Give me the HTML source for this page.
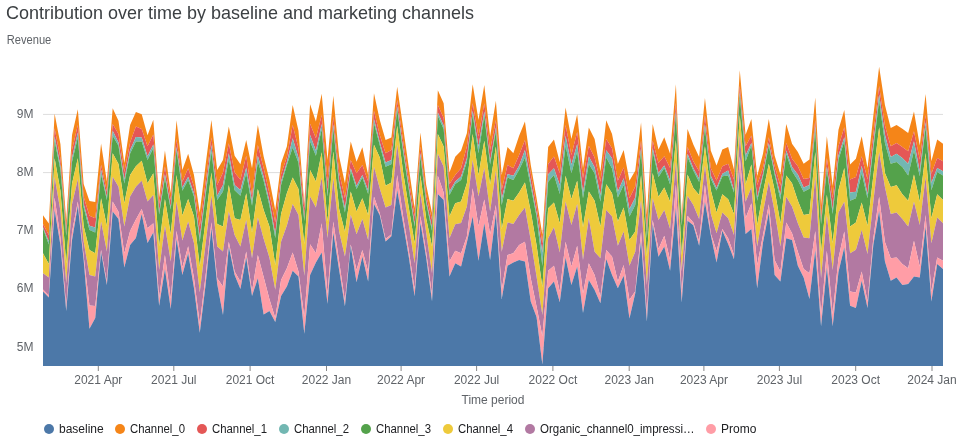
<!DOCTYPE html>
<html><head><meta charset="utf-8"><title>Contribution over time</title>
<style>
html,body{margin:0;padding:0;background:#fff;}
body{width:962px;height:440px;overflow:hidden;font-family:"Liberation Sans",sans-serif;}
svg{display:block}
text{font-family:"Liberation Sans",sans-serif;}
.tx{filter:url(#idf);}
.ttl{font-size:18.4px;fill:#3c4043;}
.sub{font-size:12px;fill:#5f6368;}
.ax{font-size:12px;fill:#5f6368;}
.lg{font-size:12px;fill:#202124;}
</style></head><body>
<svg width="962" height="440" viewBox="0 0 962 440">
<defs><filter id="idf" x="0" y="0" width="962" height="440" filterUnits="userSpaceOnUse"><feOffset dx="0" dy="0"/></filter></defs>
<rect width="962" height="440" fill="#fff"/>
<g class="tx"><text x="6" y="19" class="ttl" textLength="468" lengthAdjust="spacingAndGlyphs">Contribution over time by baseline and marketing channels</text>
<text x="6.7" y="44" class="sub" textLength="44.6" lengthAdjust="spacingAndGlyphs">Revenue</text></g>
<g class="tx"><line x1="43" x2="943" y1="114.4" y2="114.4" stroke="#ddd" stroke-width="1"/>
<text x="33.5" y="117.7" text-anchor="end" class="ax">9M</text>
<line x1="43" x2="943" y1="172.6" y2="172.6" stroke="#ddd" stroke-width="1"/>
<text x="33.5" y="175.9" text-anchor="end" class="ax">8M</text>
<line x1="43" x2="943" y1="230.8" y2="230.8" stroke="#ddd" stroke-width="1"/>
<text x="33.5" y="234.1" text-anchor="end" class="ax">7M</text>
<line x1="43" x2="943" y1="289.1" y2="289.1" stroke="#ddd" stroke-width="1"/>
<text x="33.5" y="292.4" text-anchor="end" class="ax">6M</text>
<line x1="43" x2="943" y1="347.3" y2="347.3" stroke="#ddd" stroke-width="1"/>
<text x="33.5" y="350.6" text-anchor="end" class="ax">5M</text></g>
<g><polygon fill="#f58518" points="43.00,215.20 48.81,223.50 54.61,113.64 60.42,144.00 66.23,220.50 72.03,135.00 77.84,109.15 83.65,184.00 89.45,201.00 95.26,202.00 101.06,143.58 106.87,181.60 112.68,108.32 118.48,120.79 124.29,163.00 130.10,124.95 135.90,111.98 141.71,114.14 147.52,135.26 153.32,119.63 159.13,197.40 164.94,150.40 170.74,193.00 176.55,120.29 182.35,170.00 188.16,153.72 193.97,175.00 199.77,212.40 205.58,165.00 211.39,119.94 217.19,169.98 223.00,160.00 228.81,126.59 234.61,155.70 240.42,164.16 246.23,139.90 252.03,168.32 257.84,124.93 263.65,156.53 269.45,179.96 275.26,209.90 281.06,163.33 286.87,146.55 292.68,104.97 298.48,130.75 304.29,204.07 310.10,104.14 315.90,121.60 321.71,93.66 327.52,160.00 333.32,95.82 339.13,156.53 344.94,183.28 350.74,141.54 356.55,161.64 362.35,147.36 368.16,174.95 373.97,93.31 379.77,119.92 385.58,139.88 391.39,137.38 397.19,86.65 403.00,126.57 408.81,167.50 414.61,208.21 420.42,132.39 426.23,185.00 432.03,213.00 437.84,90.31 443.65,103.28 449.45,172.45 455.26,156.65 461.06,150.83 466.87,133.22 472.68,84.16 478.48,119.92 484.29,84.99 490.10,136.55 495.90,100.83 501.71,174.98 507.52,147.07 513.32,153.22 519.13,135.76 524.94,121.62 530.74,164.86 536.55,197.93 542.35,234.80 548.16,147.07 553.97,139.58 559.77,162.37 565.58,107.48 571.39,139.09 577.19,114.14 583.00,168.19 588.81,127.44 594.61,139.09 600.42,171.52 606.23,120.29 612.03,134.10 617.84,164.03 623.65,149.90 629.45,180.80 635.26,170.82 641.06,122.45 646.87,214.90 652.68,124.04 658.48,149.60 664.29,137.35 670.10,153.76 675.90,84.13 681.71,215.80 687.52,129.03 693.32,144.61 699.13,157.09 704.94,97.93 710.74,150.43 716.55,165.40 722.35,149.60 728.16,147.11 733.97,169.56 739.77,70.32 745.58,134.63 751.39,119.05 757.19,176.00 763.00,153.76 768.81,119.05 774.61,155.42 780.42,174.55 786.23,124.04 792.03,143.78 797.84,152.10 803.65,163.74 809.45,159.58 815.26,97.42 821.06,204.96 826.87,136.30 832.68,186.00 838.48,129.64 844.29,109.90 850.10,164.57 855.90,158.75 861.71,136.30 867.52,167.90 873.32,115.72 879.13,66.65 884.94,104.91 890.74,127.98 896.55,124.99 902.35,128.81 908.16,132.97 913.97,111.56 919.77,145.44 925.58,94.10 931.39,161.24 937.19,139.62 943.00,143.78 943.00,161.24 937.19,157.92 931.39,173.72 925.58,114.89 919.77,159.58 913.97,131.31 908.16,151.26 902.35,147.11 896.55,142.95 890.74,146.27 884.94,125.48 879.13,85.95 873.32,134.13 867.52,179.54 861.71,156.25 855.90,177.00 850.10,179.54 844.29,127.15 838.48,146.27 832.68,198.31 826.87,157.92 821.06,218.26 815.26,120.00 809.45,177.88 803.65,179.00 797.84,166.23 792.03,158.75 786.23,142.95 780.42,185.83 774.61,166.00 768.81,137.13 763.00,167.90 757.19,185.00 751.39,135.46 745.58,146.27 739.77,85.79 733.97,179.54 728.16,163.74 722.35,166.23 716.55,180.50 710.74,167.90 704.94,114.90 699.13,171.22 693.32,161.24 687.52,147.11 681.71,221.00 675.90,102.92 670.10,167.90 664.29,156.25 658.48,162.91 652.68,140.45 646.87,227.67 641.06,140.42 635.26,186.62 629.45,198.26 623.65,167.49 617.84,180.80 612.03,148.23 606.23,139.09 600.42,181.63 594.61,157.38 588.81,145.74 583.00,178.31 577.19,132.10 571.39,154.89 565.58,124.95 559.77,173.32 553.97,156.55 548.16,164.03 542.35,243.30 536.55,206.25 530.74,173.32 524.94,139.92 519.13,154.89 513.32,168.33 507.52,164.86 501.71,189.95 495.90,119.92 490.10,150.00 484.29,103.28 478.48,136.55 472.68,103.28 466.87,146.53 461.06,168.30 455.26,174.95 449.45,184.10 443.65,117.92 437.84,104.95 432.03,220.00 426.23,195.33 420.42,146.53 414.61,216.53 408.81,179.82 403.00,140.22 397.19,99.96 391.39,150.00 385.58,153.33 379.77,134.89 373.97,110.77 368.16,181.60 362.35,164.97 356.55,173.28 350.74,159.98 344.94,198.25 339.13,172.59 333.32,116.61 327.52,181.62 321.71,114.95 315.90,138.23 310.10,123.76 304.29,208.50 298.48,148.21 292.68,124.93 286.87,156.79 281.06,174.14 275.26,222.37 269.45,193.26 263.65,168.32 257.84,144.89 252.03,195.76 246.23,155.70 240.42,179.63 234.61,172.47 228.81,143.22 223.00,172.47 217.19,184.95 211.39,137.40 205.58,181.98 199.77,226.53 193.97,186.63 188.16,168.19 182.35,181.64 176.55,139.09 170.74,200.00 164.94,166.53 159.13,204.00 153.32,134.43 147.52,146.24 141.71,129.11 135.90,126.61 130.10,142.41 124.29,172.00 118.48,134.10 112.68,124.12 106.87,191.62 101.06,164.86 95.26,218.23 89.45,215.74 83.65,196.86 77.84,124.95 72.03,149.86 66.23,229.00 60.42,158.29 54.61,128.27 48.81,235.00 43.00,224.00"/>
<polygon fill="#e45756" points="43.00,224.00 48.81,235.00 54.61,128.27 60.42,158.29 66.23,229.00 72.03,149.86 77.84,124.95 83.65,196.86 89.45,215.74 95.26,218.23 101.06,164.86 106.87,191.62 112.68,124.12 118.48,134.10 124.29,172.00 130.10,142.41 135.90,126.61 141.71,129.11 147.52,146.24 153.32,134.43 159.13,204.00 164.94,166.53 170.74,200.00 176.55,139.09 182.35,181.64 188.16,168.19 193.97,186.63 199.77,226.53 205.58,181.98 211.39,137.40 217.19,184.95 223.00,172.47 228.81,143.22 234.61,172.47 240.42,179.63 246.23,155.70 252.03,195.76 257.84,144.89 263.65,168.32 269.45,193.26 275.26,222.37 281.06,174.14 286.87,156.79 292.68,124.93 298.48,148.21 304.29,208.50 310.10,123.76 315.90,138.23 321.71,114.95 327.52,181.62 333.32,116.61 339.13,172.59 344.94,198.25 350.74,159.98 356.55,173.28 362.35,164.97 368.16,181.60 373.97,110.77 379.77,134.89 385.58,153.33 391.39,150.00 397.19,99.96 403.00,140.22 408.81,179.82 414.61,216.53 420.42,146.53 426.23,195.33 432.03,220.00 437.84,104.95 443.65,117.92 449.45,184.10 455.26,174.95 461.06,168.30 466.87,146.53 472.68,103.28 478.48,136.55 484.29,103.28 490.10,150.00 495.90,119.92 501.71,189.95 507.52,164.86 513.32,168.33 519.13,154.89 524.94,139.92 530.74,173.32 536.55,206.25 542.35,243.30 548.16,164.03 553.97,156.55 559.77,173.32 565.58,124.95 571.39,154.89 577.19,132.10 583.00,178.31 588.81,145.74 594.61,157.38 600.42,181.63 606.23,139.09 612.03,148.23 617.84,180.80 623.65,167.49 629.45,198.26 635.26,186.62 641.06,140.42 646.87,227.67 652.68,140.45 658.48,162.91 664.29,156.25 670.10,167.90 675.90,102.92 681.71,221.00 687.52,147.11 693.32,161.24 699.13,171.22 704.94,114.90 710.74,167.90 716.55,180.50 722.35,166.23 728.16,163.74 733.97,179.54 739.77,85.79 745.58,146.27 751.39,135.46 757.19,185.00 763.00,167.90 768.81,137.13 774.61,166.00 780.42,185.83 786.23,142.95 792.03,158.75 797.84,166.23 803.65,179.00 809.45,177.88 815.26,120.00 821.06,218.26 826.87,157.92 832.68,198.31 838.48,146.27 844.29,127.15 850.10,179.54 855.90,177.00 861.71,156.25 867.52,179.54 873.32,134.13 879.13,85.95 884.94,125.48 890.74,146.27 896.55,142.95 902.35,147.11 908.16,151.26 913.97,131.31 919.77,159.58 925.58,114.89 931.39,173.72 937.19,157.92 943.00,161.24 943.00,171.22 937.19,167.90 931.39,182.86 925.58,122.37 919.77,171.22 913.97,141.28 908.16,163.74 902.35,157.92 896.55,153.76 890.74,157.09 884.94,134.63 879.13,94.43 873.32,143.95 867.52,194.15 861.71,165.73 855.90,191.65 850.10,192.48 844.29,137.13 838.48,155.42 832.68,209.95 826.87,166.23 821.06,222.42 815.26,126.30 809.45,185.00 803.65,187.49 797.84,174.55 792.03,167.06 786.23,150.43 780.42,194.98 774.61,171.65 768.81,142.95 763.00,173.68 757.19,197.47 751.39,142.95 745.58,155.42 739.77,92.44 733.97,190.32 728.16,170.39 722.35,173.72 716.55,188.00 710.74,175.38 704.94,124.04 699.13,178.71 693.32,167.90 687.52,153.76 681.71,224.00 675.90,111.57 670.10,180.37 664.29,165.40 658.48,172.89 652.68,147.94 646.87,234.48 641.06,147.90 635.26,197.43 629.45,209.07 623.65,178.31 617.84,191.61 612.03,158.21 606.23,150.23 600.42,194.94 594.61,167.36 588.81,156.55 583.00,192.44 577.19,144.07 571.39,164.86 565.58,135.76 559.77,184.96 553.97,168.19 548.16,174.15 542.35,252.50 536.55,213.23 530.74,181.63 524.94,149.90 519.13,165.70 513.32,175.81 507.52,174.15 501.71,199.10 495.90,127.40 490.10,161.50 484.29,111.60 478.48,146.53 472.68,110.77 466.87,158.32 461.06,176.61 455.26,181.60 449.45,191.58 443.65,125.41 437.84,112.43 432.03,228.00 426.23,200.84 420.42,153.22 414.61,224.15 408.81,186.39 403.00,147.49 397.19,106.61 391.39,159.98 385.58,162.47 379.77,142.37 373.97,119.09 368.16,190.42 362.35,174.95 356.55,185.76 350.74,168.30 344.94,208.23 339.13,181.15 333.32,124.43 327.52,193.26 321.71,124.10 315.90,150.71 310.10,134.91 304.29,218.50 298.48,157.83 292.68,138.23 286.87,162.26 281.06,181.62 275.26,234.00 269.45,201.58 263.65,176.63 257.84,155.70 252.03,201.58 246.23,167.44 240.42,189.94 234.61,184.95 228.81,153.20 223.00,184.95 217.19,195.76 211.39,144.89 205.58,191.04 199.77,237.47 193.97,193.28 188.16,176.65 182.35,187.46 176.55,146.90 170.74,207.50 164.94,174.17 159.13,212.00 153.32,144.41 147.52,156.22 141.71,137.42 135.90,136.92 130.10,149.90 124.29,179.50 118.48,142.41 112.68,130.77 106.87,197.44 101.06,169.85 95.26,227.38 89.45,225.72 83.65,203.71 77.84,132.43 72.03,157.78 66.23,234.15 60.42,165.92 54.61,136.59 48.81,241.60 43.00,227.30"/>
<polygon fill="#72b7b2" points="43.00,227.30 48.81,241.60 54.61,136.59 60.42,165.92 66.23,234.15 72.03,157.78 77.84,132.43 83.65,203.71 89.45,225.72 95.26,227.38 101.06,169.85 106.87,197.44 112.68,130.77 118.48,142.41 124.29,179.50 130.10,149.90 135.90,136.92 141.71,137.42 147.52,156.22 153.32,144.41 159.13,212.00 164.94,174.17 170.74,207.50 176.55,146.90 182.35,187.46 188.16,176.65 193.97,193.28 199.77,237.47 205.58,191.04 211.39,144.89 217.19,195.76 223.00,184.95 228.81,153.20 234.61,184.95 240.42,189.94 246.23,167.44 252.03,201.58 257.84,155.70 263.65,176.63 269.45,201.58 275.26,234.00 281.06,181.62 286.87,162.26 292.68,138.23 298.48,157.83 304.29,218.50 310.10,134.91 315.90,150.71 321.71,124.10 327.52,193.26 333.32,124.43 339.13,181.15 344.94,208.23 350.74,168.30 356.55,185.76 362.35,174.95 368.16,190.42 373.97,119.09 379.77,142.37 385.58,162.47 391.39,159.98 397.19,106.61 403.00,147.49 408.81,186.39 414.61,224.15 420.42,153.22 426.23,200.84 432.03,228.00 437.84,112.43 443.65,125.41 449.45,191.58 455.26,181.60 461.06,176.61 466.87,158.32 472.68,110.77 478.48,146.53 484.29,111.60 490.10,161.50 495.90,127.40 501.71,199.10 507.52,174.15 513.32,175.81 519.13,165.70 524.94,149.90 530.74,181.63 536.55,213.23 542.35,252.50 548.16,174.15 553.97,168.19 559.77,184.96 565.58,135.76 571.39,164.86 577.19,144.07 583.00,192.44 588.81,156.55 594.61,167.36 600.42,194.94 606.23,150.23 612.03,158.21 617.84,191.61 623.65,178.31 629.45,209.07 635.26,197.43 641.06,147.90 646.87,234.48 652.68,147.94 658.48,172.89 664.29,165.40 670.10,180.37 675.90,111.57 681.71,224.00 687.52,153.76 693.32,167.90 699.13,178.71 704.94,124.04 710.74,175.38 716.55,188.00 722.35,173.72 728.16,170.39 733.97,190.32 739.77,92.44 745.58,155.42 751.39,142.95 757.19,197.47 763.00,173.68 768.81,142.95 774.61,171.65 780.42,194.98 786.23,150.43 792.03,167.06 797.84,174.55 803.65,187.49 809.45,185.00 815.26,126.30 821.06,222.42 826.87,166.23 832.68,209.95 838.48,155.42 844.29,137.13 850.10,192.48 855.90,191.65 861.71,165.73 867.52,194.15 873.32,143.95 879.13,94.43 884.94,134.63 890.74,157.09 896.55,153.76 902.35,157.92 908.16,163.74 913.97,141.28 919.77,171.22 925.58,122.37 931.39,182.86 937.19,167.90 943.00,171.22 943.00,175.38 937.19,172.05 931.39,190.32 925.58,127.36 919.77,176.21 913.97,150.43 908.16,175.38 902.35,167.06 896.55,162.07 890.74,163.74 884.94,142.95 879.13,100.42 873.32,148.86 867.52,198.31 861.71,173.22 855.90,198.31 850.10,200.80 844.29,141.28 838.48,159.58 832.68,214.11 826.87,169.56 821.06,224.09 815.26,130.50 809.45,188.66 803.65,191.65 797.84,180.37 792.03,171.22 786.23,153.76 780.42,199.47 774.61,174.47 768.81,145.44 763.00,176.57 757.19,200.80 751.39,145.44 745.58,161.24 739.77,95.27 733.97,192.48 728.16,175.38 722.35,176.21 716.55,190.50 710.74,178.71 704.94,127.70 699.13,182.03 693.32,170.39 687.52,157.09 681.71,225.50 675.90,114.40 670.10,184.53 664.29,167.90 658.48,177.04 652.68,151.26 646.87,237.89 641.06,150.73 635.26,204.92 629.45,216.56 623.65,184.96 617.84,197.43 612.03,168.50 606.23,157.38 600.42,201.59 594.61,173.32 588.81,164.03 583.00,198.26 577.19,151.56 571.39,173.32 565.58,145.74 559.77,194.11 553.97,174.98 548.16,181.63 542.35,266.00 536.55,216.56 530.74,186.62 524.94,157.38 519.13,169.85 513.32,179.97 507.52,177.47 501.71,204.92 495.90,131.06 490.10,164.50 484.29,115.76 478.48,153.33 472.68,114.43 466.87,161.64 461.06,179.94 455.26,184.10 449.45,194.91 443.65,129.06 437.84,116.09 432.03,231.00 426.23,203.59 420.42,156.56 414.61,226.64 408.81,189.67 403.00,151.13 397.19,109.60 391.39,164.14 385.58,166.63 379.77,145.20 373.97,122.91 368.16,194.07 362.35,177.44 356.55,189.09 350.74,170.79 344.94,212.39 339.13,185.43 333.32,128.59 327.52,196.59 321.71,129.09 315.90,155.70 310.10,141.56 304.29,221.00 298.48,162.65 292.68,147.38 286.87,164.99 281.06,184.95 275.26,238.00 269.45,205.74 263.65,180.79 257.84,161.52 252.03,205.74 246.23,173.31 240.42,195.76 234.61,190.27 228.81,159.02 223.00,191.60 217.19,199.92 211.39,151.54 205.58,195.57 199.77,241.63 193.97,196.61 188.16,179.98 182.35,190.79 176.55,150.23 170.74,209.50 164.94,177.99 159.13,214.50 153.32,148.23 147.52,159.88 141.71,141.58 135.90,141.58 130.10,153.56 124.29,183.50 118.48,145.74 112.68,135.76 106.87,199.94 101.06,174.23 95.26,232.48 89.45,229.99 83.65,207.14 77.84,137.42 72.03,161.75 66.23,235.81 60.42,169.73 54.61,140.75 48.81,244.60 43.00,228.50"/>
<polygon fill="#54a24b" points="43.00,228.50 48.81,244.60 54.61,140.75 60.42,169.73 66.23,235.81 72.03,161.75 77.84,137.42 83.65,207.14 89.45,229.99 95.26,232.48 101.06,174.23 106.87,199.94 112.68,135.76 118.48,145.74 124.29,183.50 130.10,153.56 135.90,141.58 141.71,141.58 147.52,159.88 153.32,148.23 159.13,214.50 164.94,177.99 170.74,209.50 176.55,150.23 182.35,190.79 188.16,179.98 193.97,196.61 199.77,241.63 205.58,195.57 211.39,151.54 217.19,199.92 223.00,191.60 228.81,159.02 234.61,190.27 240.42,195.76 246.23,173.31 252.03,205.74 257.84,161.52 263.65,180.79 269.45,205.74 275.26,238.00 281.06,184.95 286.87,164.99 292.68,147.38 298.48,162.65 304.29,221.00 310.10,141.56 315.90,155.70 321.71,129.09 327.52,196.59 333.32,128.59 339.13,185.43 344.94,212.39 350.74,170.79 356.55,189.09 362.35,177.44 368.16,194.07 373.97,122.91 379.77,145.20 385.58,166.63 391.39,164.14 397.19,109.60 403.00,151.13 408.81,189.67 414.61,226.64 420.42,156.56 426.23,203.59 432.03,231.00 437.84,116.09 443.65,129.06 449.45,194.91 455.26,184.10 461.06,179.94 466.87,161.64 472.68,114.43 478.48,153.33 484.29,115.76 490.10,164.50 495.90,131.06 501.71,204.92 507.52,177.47 513.32,179.97 519.13,169.85 524.94,157.38 530.74,186.62 536.55,216.56 542.35,266.00 548.16,181.63 553.97,174.98 559.77,194.11 565.58,145.74 571.39,173.32 577.19,151.56 583.00,198.26 588.81,164.03 594.61,173.32 600.42,201.59 606.23,157.38 612.03,168.50 617.84,197.43 623.65,184.96 629.45,216.56 635.26,204.92 641.06,150.73 646.87,237.89 652.68,151.26 658.48,177.04 664.29,167.90 670.10,184.53 675.90,114.40 681.71,225.50 687.52,157.09 693.32,170.39 699.13,182.03 704.94,127.70 710.74,178.71 716.55,190.50 722.35,176.21 728.16,175.38 733.97,192.48 739.77,95.27 745.58,161.24 751.39,145.44 757.19,200.80 763.00,176.57 768.81,145.44 774.61,174.47 780.42,199.47 786.23,153.76 792.03,171.22 797.84,180.37 803.65,191.65 809.45,188.66 815.26,130.50 821.06,224.09 826.87,169.56 832.68,214.11 838.48,159.58 844.29,141.28 850.10,200.80 855.90,198.31 861.71,173.22 867.52,198.31 873.32,148.86 879.13,100.42 884.94,142.95 890.74,163.74 896.55,162.07 902.35,167.06 908.16,175.38 913.97,150.43 919.77,176.21 925.58,127.36 931.39,190.32 937.19,172.05 943.00,175.38 943.00,199.97 937.19,194.15 931.39,218.26 925.58,153.00 919.77,201.63 913.97,174.55 908.16,200.80 902.35,194.15 896.55,185.36 890.74,187.02 884.94,172.89 879.13,127.36 873.32,175.86 867.52,225.75 861.71,202.46 855.90,222.42 850.10,226.58 844.29,167.90 838.48,189.99 832.68,243.00 826.87,194.65 821.06,251.63 815.26,152.00 809.45,214.11 803.65,214.94 797.84,200.80 792.03,183.20 786.23,175.38 780.42,223.25 774.61,189.99 768.81,163.74 763.00,192.48 757.19,224.92 751.39,164.57 745.58,184.53 739.77,114.90 733.97,214.11 728.16,199.14 722.35,194.15 716.55,212.44 710.74,189.99 704.94,146.27 699.13,194.98 693.32,188.08 687.52,174.55 681.71,255.00 675.90,140.00 670.10,201.63 664.29,187.49 658.48,196.64 652.68,172.89 646.87,256.62 641.06,174.98 635.26,231.53 629.45,239.99 623.65,207.41 617.84,221.55 612.03,193.27 606.23,184.13 600.42,226.54 594.61,200.76 588.81,191.61 583.00,227.37 577.19,180.80 571.39,199.10 565.58,175.81 559.77,223.21 553.97,202.42 548.16,208.24 542.35,287.00 536.55,244.98 530.74,211.57 524.94,182.46 519.13,192.44 513.32,200.76 507.52,199.10 501.71,229.03 495.90,146.53 490.10,184.50 484.29,140.71 478.48,174.95 472.68,134.05 466.87,183.26 461.06,201.56 455.26,203.22 449.45,216.53 443.65,146.53 437.84,134.05 432.03,246.60 426.23,218.75 420.42,174.95 414.61,243.27 408.81,207.74 403.00,171.15 397.19,125.74 391.39,182.43 385.58,185.76 379.77,157.48 373.97,144.86 368.16,215.00 362.35,198.23 356.55,211.54 350.74,191.58 344.94,231.63 339.13,208.98 333.32,151.54 327.52,221.54 321.71,152.37 315.90,181.62 310.10,169.98 304.29,244.00 298.48,189.11 292.68,177.46 286.87,193.26 281.06,213.95 275.26,264.92 269.45,226.53 263.65,209.90 257.84,189.11 252.03,232.48 246.23,193.26 240.42,219.88 234.61,218.21 228.81,184.95 223.00,226.53 217.19,224.03 211.39,172.50 205.58,220.47 199.77,266.58 193.97,216.57 188.16,199.11 182.35,215.60 176.55,174.99 170.74,234.00 164.94,199.00 159.13,246.00 153.32,173.33 147.52,183.31 141.71,160.71 135.90,166.20 130.10,174.99 124.29,203.26 118.48,164.03 112.68,153.22 106.87,226.00 101.06,198.27 95.26,253.27 89.45,249.95 83.65,226.00 77.84,158.21 72.03,183.54 66.23,263.25 60.42,190.69 54.61,158.21 48.81,264.00 43.00,253.30"/>
<polygon fill="#eeca3b" points="43.00,253.30 48.81,264.00 54.61,158.21 60.42,190.69 66.23,263.25 72.03,183.54 77.84,158.21 83.65,226.00 89.45,249.95 95.26,253.27 101.06,198.27 106.87,226.00 112.68,153.22 118.48,164.03 124.29,203.26 130.10,174.99 135.90,166.20 141.71,160.71 147.52,183.31 153.32,173.33 159.13,246.00 164.94,199.00 170.74,234.00 176.55,174.99 182.35,215.60 188.16,199.11 193.97,216.57 199.77,266.58 205.58,220.47 211.39,172.50 217.19,224.03 223.00,226.53 228.81,184.95 234.61,218.21 240.42,219.88 246.23,193.26 252.03,232.48 257.84,189.11 263.65,209.90 269.45,226.53 275.26,264.92 281.06,213.95 286.87,193.26 292.68,177.46 298.48,189.11 304.29,244.00 310.10,169.98 315.90,181.62 321.71,152.37 327.52,221.54 333.32,151.54 339.13,208.98 344.94,231.63 350.74,191.58 356.55,211.54 362.35,198.23 368.16,215.00 373.97,144.86 379.77,157.48 385.58,185.76 391.39,182.43 397.19,125.74 403.00,171.15 408.81,207.74 414.61,243.27 420.42,174.95 426.23,218.75 432.03,246.60 437.84,134.05 443.65,146.53 449.45,216.53 455.26,203.22 461.06,201.56 466.87,183.26 472.68,134.05 478.48,174.95 484.29,140.71 490.10,184.50 495.90,146.53 501.71,229.03 507.52,199.10 513.32,200.76 519.13,192.44 524.94,182.46 530.74,211.57 536.55,244.98 542.35,287.00 548.16,208.24 553.97,202.42 559.77,223.21 565.58,175.81 571.39,199.10 577.19,180.80 583.00,227.37 588.81,191.61 594.61,200.76 600.42,226.54 606.23,184.13 612.03,193.27 617.84,221.55 623.65,207.41 629.45,239.99 635.26,231.53 641.06,174.98 646.87,256.62 652.68,172.89 658.48,196.64 664.29,187.49 670.10,201.63 675.90,140.00 681.71,255.00 687.52,174.55 693.32,188.08 699.13,194.98 704.94,146.27 710.74,189.99 716.55,212.44 722.35,194.15 728.16,199.14 733.97,214.11 739.77,114.90 745.58,184.53 751.39,164.57 757.19,224.92 763.00,192.48 768.81,163.74 774.61,189.99 780.42,223.25 786.23,175.38 792.03,183.20 797.84,200.80 803.65,214.94 809.45,214.11 815.26,152.00 821.06,251.63 826.87,194.65 832.68,243.00 838.48,189.99 844.29,167.90 850.10,226.58 855.90,222.42 861.71,202.46 867.52,225.75 873.32,175.86 879.13,127.36 884.94,172.89 890.74,187.02 896.55,185.36 902.35,194.15 908.16,200.80 913.97,174.55 919.77,201.63 925.58,153.00 931.39,218.26 937.19,194.15 943.00,199.97 943.00,223.25 937.19,217.43 931.39,243.21 925.58,177.00 919.77,224.92 913.97,201.63 908.16,226.58 902.35,219.10 896.55,212.44 890.74,214.11 884.94,187.02 879.13,152.10 873.32,201.63 867.52,254.02 861.71,229.91 855.90,249.86 850.10,253.19 844.29,201.63 838.48,212.44 832.68,270.00 826.87,214.94 821.06,278.24 815.26,176.50 809.45,238.22 803.65,237.39 797.84,223.25 792.03,206.62 786.23,196.64 780.42,246.54 774.61,211.61 768.81,182.03 763.00,212.44 757.19,246.54 751.39,187.49 745.58,201.63 739.77,135.69 733.97,234.90 728.16,218.26 722.35,212.44 716.55,233.23 710.74,213.61 704.94,165.40 699.13,219.10 693.32,204.96 687.52,195.81 681.71,271.60 675.90,162.00 670.10,229.07 664.29,209.95 658.48,219.93 652.68,198.31 646.87,284.93 641.06,199.93 635.26,251.63 629.45,265.77 623.65,231.53 617.84,245.81 612.03,216.56 606.23,209.91 600.42,258.28 594.61,251.63 588.81,218.22 583.00,259.95 577.19,204.09 571.39,224.88 565.58,201.59 559.77,252.46 553.97,227.37 548.16,238.18 542.35,315.00 536.55,276.58 530.74,240.14 524.94,207.41 519.13,214.90 513.32,224.04 507.52,222.38 501.71,251.63 495.90,170.79 490.10,211.54 484.29,168.00 478.48,196.57 472.68,159.98 466.87,206.55 461.06,223.01 455.26,224.15 449.45,238.28 443.65,166.63 437.84,153.66 432.03,273.21 426.23,233.21 420.42,193.24 414.61,263.23 408.81,224.98 403.00,190.25 397.19,144.86 391.39,204.89 385.58,207.38 379.77,188.59 373.97,166.63 368.16,239.95 362.35,219.02 356.55,234.13 350.74,214.86 344.94,256.58 339.13,231.46 333.32,178.30 327.52,238.00 321.71,177.46 315.90,207.40 310.10,196.59 304.29,275.73 298.48,214.89 292.68,204.07 286.87,225.40 281.06,241.63 275.26,289.86 269.45,257.65 263.65,238.65 257.84,217.38 252.03,258.26 246.23,219.88 240.42,246.62 234.61,234.98 228.81,211.56 223.00,251.61 217.19,246.62 211.39,195.76 205.58,244.25 199.77,292.36 193.97,242.89 188.16,221.56 182.35,240.60 176.55,201.60 170.74,261.60 164.94,225.72 159.13,270.00 153.32,194.95 147.52,201.60 141.71,180.81 135.90,186.63 130.10,196.61 124.29,226.55 118.48,186.63 112.68,176.65 106.87,251.61 101.06,221.56 95.26,276.56 89.45,274.90 83.65,241.60 77.84,179.15 72.03,204.34 66.23,283.21 60.42,210.70 54.61,177.00 48.81,277.40 43.00,273.30"/>
<polygon fill="#b279a2" points="43.00,273.30 48.81,277.40 54.61,177.00 60.42,210.70 66.23,283.21 72.03,204.34 77.84,179.15 83.65,241.60 89.45,274.90 95.26,276.56 101.06,221.56 106.87,251.61 112.68,176.65 118.48,186.63 124.29,226.55 130.10,196.61 135.90,186.63 141.71,180.81 147.52,201.60 153.32,194.95 159.13,270.00 164.94,225.72 170.74,261.60 176.55,201.60 182.35,240.60 188.16,221.56 193.97,242.89 199.77,292.36 205.58,244.25 211.39,195.76 217.19,246.62 223.00,251.61 228.81,211.56 234.61,234.98 240.42,246.62 246.23,219.88 252.03,258.26 257.84,217.38 263.65,238.65 269.45,257.65 275.26,289.86 281.06,241.63 286.87,225.40 292.68,204.07 298.48,214.89 304.29,275.73 310.10,196.59 315.90,207.40 321.71,177.46 327.52,238.00 333.32,178.30 339.13,231.46 344.94,256.58 350.74,214.86 356.55,234.13 362.35,219.02 368.16,239.95 373.97,166.63 379.77,188.59 385.58,207.38 391.39,204.89 397.19,144.86 403.00,190.25 408.81,224.98 414.61,263.23 420.42,193.24 426.23,233.21 432.03,273.21 437.84,153.66 443.65,166.63 449.45,238.28 455.26,224.15 461.06,223.01 466.87,206.55 472.68,159.98 478.48,196.57 484.29,168.00 490.10,211.54 495.90,170.79 501.71,251.63 507.52,222.38 513.32,224.04 519.13,214.90 524.94,207.41 530.74,240.14 536.55,276.58 542.35,315.00 548.16,238.18 553.97,227.37 559.77,252.46 565.58,201.59 571.39,224.88 577.19,204.09 583.00,259.95 588.81,218.22 594.61,251.63 600.42,258.28 606.23,209.91 612.03,216.56 617.84,245.81 623.65,231.53 629.45,265.77 635.26,251.63 641.06,199.93 646.87,284.93 652.68,198.31 658.48,219.93 664.29,209.95 670.10,229.07 675.90,162.00 681.71,271.60 687.52,195.81 693.32,204.96 699.13,219.10 704.94,165.40 710.74,213.61 716.55,233.23 722.35,212.44 728.16,218.26 733.97,234.90 739.77,135.69 745.58,201.63 751.39,187.49 757.19,246.54 763.00,212.44 768.81,182.03 774.61,211.61 780.42,246.54 786.23,196.64 792.03,206.62 797.84,223.25 803.65,237.39 809.45,238.22 815.26,176.50 821.06,278.24 826.87,214.94 832.68,270.00 838.48,212.44 844.29,201.63 850.10,253.19 855.90,249.86 861.71,229.91 867.52,254.02 873.32,201.63 879.13,152.10 884.94,187.02 890.74,214.11 896.55,212.44 902.35,219.10 908.16,226.58 913.97,201.63 919.77,224.92 925.58,177.00 931.39,243.21 937.19,217.43 943.00,223.25 943.00,260.78 937.19,257.45 931.39,291.55 925.58,214.94 919.77,266.60 913.97,240.82 908.16,268.26 902.35,264.11 896.55,257.45 890.74,258.28 884.94,241.99 879.13,196.64 873.32,238.33 867.52,301.53 861.71,271.59 855.90,292.38 850.10,291.55 844.29,231.57 838.48,258.28 832.68,314.00 826.87,250.80 821.06,315.00 815.26,231.00 809.45,273.25 803.65,269.10 797.84,251.63 792.03,233.23 786.23,222.42 780.42,271.62 774.61,259.98 768.81,204.13 763.00,234.90 757.19,264.97 751.39,203.30 745.58,218.26 739.77,156.25 733.97,254.85 728.16,238.22 722.35,229.07 716.55,251.03 710.74,233.23 704.94,184.53 699.13,241.55 693.32,222.42 687.52,215.77 681.71,293.00 675.90,184.50 670.10,259.98 664.29,235.73 658.48,249.03 652.68,219.93 646.87,313.39 641.06,231.87 635.26,291.22 629.45,299.86 623.65,264.94 617.84,281.57 612.03,256.62 606.23,249.97 600.42,296.54 594.61,274.92 588.81,263.27 583.00,293.21 577.19,245.81 571.39,266.60 565.58,241.65 559.77,291.55 553.97,265.77 548.16,270.76 542.35,336.00 536.55,306.52 530.74,278.24 524.94,241.65 519.13,244.98 513.32,253.30 507.52,254.96 501.71,289.89 495.90,204.89 490.10,234.00 484.29,199.50 478.48,226.00 472.68,188.25 466.87,236.62 461.06,253.25 455.26,250.76 449.45,261.57 443.65,192.41 437.84,175.78 432.03,295.02 426.23,252.49 420.42,215.70 414.61,288.91 408.81,250.76 403.00,215.72 397.19,174.95 391.39,234.13 385.58,239.12 379.77,213.20 373.97,196.57 368.16,271.55 362.35,249.93 356.55,269.89 350.74,244.60 344.94,301.00 339.13,261.44 333.32,221.54 327.52,293.50 321.71,223.20 315.90,253.27 310.10,244.13 304.29,317.00 298.48,271.57 292.68,252.44 286.87,268.24 281.06,279.89 275.26,318.00 269.45,299.14 263.65,277.00 257.84,254.94 252.03,291.53 246.23,251.61 240.42,281.55 234.61,271.57 228.81,241.63 223.00,286.54 217.19,278.22 211.39,222.37 205.58,275.94 199.77,323.80 193.97,277.97 188.16,246.25 182.35,267.36 176.55,230.69 170.74,298.47 164.94,254.94 159.13,297.77 153.32,223.22 147.52,228.21 141.71,209.09 135.90,219.40 130.10,231.00 124.29,253.27 118.48,211.81 112.68,201.60 106.87,281.55 101.06,250.00 95.26,306.00 89.45,305.50 83.65,255.91 77.84,201.60 72.03,232.08 66.23,306.50 60.42,237.38 54.61,197.50 48.81,295.50 43.00,289.50"/>
<polygon fill="#ff9da6" points="43.00,289.50 48.81,295.50 54.61,197.50 60.42,237.38 66.23,306.50 72.03,232.08 77.84,201.60 83.65,255.91 89.45,305.50 95.26,306.00 101.06,250.00 106.87,281.55 112.68,201.60 118.48,211.81 124.29,253.27 130.10,231.00 135.90,219.40 141.71,209.09 147.52,228.21 153.32,223.22 159.13,297.77 164.94,254.94 170.74,298.47 176.55,230.69 182.35,267.36 188.16,246.25 193.97,277.97 199.77,323.80 205.58,275.94 211.39,222.37 217.19,278.22 223.00,286.54 228.81,241.63 234.61,271.57 240.42,281.55 246.23,251.61 252.03,291.53 257.84,254.94 263.65,277.00 269.45,299.14 275.26,318.00 281.06,279.89 286.87,268.24 292.68,252.44 298.48,271.57 304.29,317.00 310.10,244.13 315.90,253.27 321.71,223.20 327.52,293.50 333.32,221.54 339.13,261.44 344.94,301.00 350.74,244.60 356.55,269.89 362.35,249.93 368.16,271.55 373.97,196.57 379.77,213.20 385.58,239.12 391.39,234.13 397.19,174.95 403.00,215.72 408.81,250.76 414.61,288.91 420.42,215.70 426.23,252.49 432.03,295.02 437.84,175.78 443.65,192.41 449.45,261.57 455.26,250.76 461.06,253.25 466.87,236.62 472.68,188.25 478.48,226.00 484.29,199.50 490.10,234.00 495.90,204.89 501.71,289.89 507.52,254.96 513.32,253.30 519.13,244.98 524.94,241.65 530.74,278.24 536.55,306.52 542.35,336.00 548.16,270.76 553.97,265.77 559.77,291.55 565.58,241.65 571.39,266.60 577.19,245.81 583.00,293.21 588.81,263.27 594.61,274.92 600.42,296.54 606.23,249.97 612.03,256.62 617.84,281.57 623.65,264.94 629.45,299.86 635.26,291.22 641.06,231.87 646.87,313.39 652.68,219.93 658.48,249.03 664.29,235.73 670.10,259.98 675.90,184.50 681.71,293.00 687.52,215.77 693.32,222.42 699.13,241.55 704.94,184.53 710.74,233.23 716.55,251.03 722.35,229.07 728.16,238.22 733.97,254.85 739.77,156.25 745.58,218.26 751.39,203.30 757.19,264.97 763.00,234.90 768.81,204.13 774.61,259.98 780.42,271.62 786.23,222.42 792.03,233.23 797.84,251.63 803.65,269.10 809.45,273.25 815.26,231.00 821.06,315.00 826.87,250.80 832.68,314.00 838.48,258.28 844.29,231.57 850.10,291.55 855.90,292.38 861.71,271.59 867.52,301.53 873.32,238.33 879.13,196.64 884.94,241.99 890.74,258.28 896.55,257.45 902.35,264.11 908.16,268.26 913.97,240.82 919.77,266.60 925.58,214.94 931.39,291.55 937.19,257.45 943.00,260.78 943.00,269.10 937.19,264.11 931.39,301.53 925.58,226.58 919.77,277.41 913.97,276.58 908.16,284.06 902.35,284.90 896.55,277.41 890.74,280.74 884.94,261.61 879.13,210.78 873.32,244.98 867.52,308.01 861.71,280.74 855.90,308.01 850.10,305.69 844.29,247.37 838.48,272.00 832.68,326.25 826.87,267.43 821.06,326.25 815.26,249.97 809.45,299.03 803.65,277.41 797.84,265.77 792.03,239.89 786.23,238.22 780.42,281.60 774.61,274.95 768.81,212.44 763.00,242.38 757.19,288.25 751.39,229.07 745.58,234.06 739.77,171.22 733.97,259.15 728.16,244.04 722.35,230.74 716.55,262.47 710.74,234.90 704.94,201.63 699.13,245.71 693.32,225.25 687.52,220.76 681.71,302.40 675.90,207.50 670.10,270.79 664.29,246.54 658.48,256.65 652.68,224.09 646.87,321.52 641.06,241.00 635.26,293.21 629.45,318.50 623.65,275.75 617.84,288.22 612.03,274.92 606.23,259.12 600.42,303.19 594.61,289.89 588.81,279.91 583.00,313.00 577.19,266.60 571.39,284.90 565.58,257.45 559.77,302.36 553.97,281.57 548.16,288.22 542.35,364.50 536.55,317.00 530.74,301.53 524.94,261.61 519.13,259.95 513.32,262.44 507.52,265.77 501.71,299.03 495.90,213.20 490.10,259.91 484.29,223.32 478.48,260.74 472.68,216.53 466.87,242.44 461.06,266.56 455.26,263.23 449.45,276.54 443.65,199.90 437.84,194.07 432.03,301.25 426.23,258.00 420.42,222.68 414.61,296.25 408.81,257.00 403.00,223.00 397.19,189.92 391.39,236.29 385.58,241.61 379.77,215.20 373.97,204.05 368.16,281.53 362.35,256.58 356.55,282.36 350.74,245.77 344.94,306.25 339.13,270.00 333.32,232.48 327.52,303.75 321.71,252.44 315.90,262.42 310.10,274.90 304.29,333.75 298.48,276.56 292.68,270.74 286.87,286.54 281.06,296.00 275.26,322.00 269.45,311.00 263.65,314.50 257.84,278.22 252.03,296.00 246.23,257.43 240.42,289.03 234.61,274.90 228.81,246.62 223.00,315.00 217.19,284.00 211.39,228.19 205.58,285.00 199.77,332.80 193.97,288.00 188.16,253.30 182.35,275.00 176.55,239.00 170.74,309.00 164.94,269.00 159.13,305.70 153.32,232.50 147.52,243.00 141.71,214.00 135.90,238.00 130.10,245.00 124.29,267.40 118.48,219.00 112.68,211.60 106.87,285.00 101.06,252.00 95.26,318.00 89.45,328.80 83.65,260.00 77.84,205.80 72.03,240.00 66.23,311.00 60.42,245.00 54.61,210.00 48.81,297.50 43.00,291.50"/>
<polygon fill="#4c78a8" points="43.00,291.50 48.81,297.50 54.61,210.00 60.42,245.00 66.23,311.00 72.03,240.00 77.84,205.80 83.65,260.00 89.45,328.80 95.26,318.00 101.06,252.00 106.87,285.00 112.68,211.60 118.48,219.00 124.29,267.40 130.10,245.00 135.90,238.00 141.71,214.00 147.52,243.00 153.32,232.50 159.13,305.70 164.94,269.00 170.74,309.00 176.55,239.00 182.35,275.00 188.16,253.30 193.97,288.00 199.77,332.80 205.58,285.00 211.39,228.19 217.19,284.00 223.00,315.00 228.81,246.62 234.61,274.90 240.42,289.03 246.23,257.43 252.03,296.00 257.84,278.22 263.65,314.50 269.45,311.00 275.26,322.00 281.06,296.00 286.87,286.54 292.68,270.74 298.48,276.56 304.29,333.75 310.10,274.90 315.90,262.42 321.71,252.44 327.52,303.75 333.32,232.48 339.13,270.00 344.94,306.25 350.74,245.77 356.55,282.36 362.35,256.58 368.16,281.53 373.97,204.05 379.77,215.20 385.58,241.61 391.39,236.29 397.19,189.92 403.00,223.00 408.81,257.00 414.61,296.25 420.42,222.68 426.23,258.00 432.03,301.25 437.84,194.07 443.65,199.90 449.45,276.54 455.26,263.23 461.06,266.56 466.87,242.44 472.68,216.53 478.48,260.74 484.29,223.32 490.10,259.91 495.90,213.20 501.71,299.03 507.52,265.77 513.32,262.44 519.13,259.95 524.94,261.61 530.74,301.53 536.55,317.00 542.35,364.50 548.16,288.22 553.97,281.57 559.77,302.36 565.58,257.45 571.39,284.90 577.19,266.60 583.00,313.00 588.81,279.91 594.61,289.89 600.42,303.19 606.23,259.12 612.03,274.92 617.84,288.22 623.65,275.75 629.45,318.50 635.26,293.21 641.06,241.00 646.87,321.52 652.68,224.09 658.48,256.65 664.29,246.54 670.10,270.79 675.90,207.50 681.71,302.40 687.52,220.76 693.32,225.25 699.13,245.71 704.94,201.63 710.74,234.90 716.55,262.47 722.35,230.74 728.16,244.04 733.97,259.15 739.77,171.22 745.58,234.06 751.39,229.07 757.19,288.25 763.00,242.38 768.81,212.44 774.61,274.95 780.42,281.60 786.23,238.22 792.03,239.89 797.84,265.77 803.65,277.41 809.45,299.03 815.26,249.97 821.06,326.25 826.87,267.43 832.68,326.25 838.48,272.00 844.29,247.37 850.10,305.69 855.90,308.01 861.71,280.74 867.52,308.01 873.32,244.98 879.13,210.78 884.94,261.61 890.74,280.74 896.55,277.41 902.35,284.90 908.16,284.06 913.97,276.58 919.77,277.41 925.58,226.58 931.39,301.53 937.19,264.11 943.00,269.10 943.00,366.00 43.00,366.00"/></g>
<g class="tx"><line x1="98.3" x2="98.3" y1="366" y2="371" stroke="#888" stroke-width="1"/>
<text x="98.3" y="384" text-anchor="middle" class="ax">2021 Apr</text>
<line x1="173.8" x2="173.8" y1="366" y2="371" stroke="#888" stroke-width="1"/>
<text x="173.8" y="384" text-anchor="middle" class="ax">2021 Jul</text>
<line x1="250.1" x2="250.1" y1="366" y2="371" stroke="#888" stroke-width="1"/>
<text x="250.1" y="384" text-anchor="middle" class="ax">2021 Oct</text>
<line x1="326.5" x2="326.5" y1="366" y2="371" stroke="#888" stroke-width="1"/>
<text x="326.5" y="384" text-anchor="middle" class="ax">2022 Jan</text>
<line x1="401.1" x2="401.1" y1="366" y2="371" stroke="#888" stroke-width="1"/>
<text x="401.1" y="384" text-anchor="middle" class="ax">2022 Apr</text>
<line x1="476.6" x2="476.6" y1="366" y2="371" stroke="#888" stroke-width="1"/>
<text x="476.6" y="384" text-anchor="middle" class="ax">2022 Jul</text>
<line x1="552.9" x2="552.9" y1="366" y2="371" stroke="#888" stroke-width="1"/>
<text x="552.9" y="384" text-anchor="middle" class="ax">2022 Oct</text>
<line x1="629.2" x2="629.2" y1="366" y2="371" stroke="#888" stroke-width="1"/>
<text x="629.2" y="384" text-anchor="middle" class="ax">2023 Jan</text>
<line x1="703.9" x2="703.9" y1="366" y2="371" stroke="#888" stroke-width="1"/>
<text x="703.9" y="384" text-anchor="middle" class="ax">2023 Apr</text>
<line x1="779.4" x2="779.4" y1="366" y2="371" stroke="#888" stroke-width="1"/>
<text x="779.4" y="384" text-anchor="middle" class="ax">2023 Jul</text>
<line x1="855.7" x2="855.7" y1="366" y2="371" stroke="#888" stroke-width="1"/>
<text x="855.7" y="384" text-anchor="middle" class="ax">2023 Oct</text>
<line x1="932.0" x2="932.0" y1="366" y2="371" stroke="#888" stroke-width="1"/>
<text x="932.0" y="384" text-anchor="middle" class="ax">2024 Jan</text>
<text x="493" y="404" text-anchor="middle" class="sub">Time period</text></g>
<g class="tx"><circle cx="49" cy="429" r="5" fill="#4c78a8"/>
<text x="59" y="433" class="lg">baseline</text>
<circle cx="120" cy="429" r="5" fill="#f58518"/>
<text x="130" y="433" class="lg" textLength="55" lengthAdjust="spacingAndGlyphs">Channel_0</text>
<circle cx="202" cy="429" r="5" fill="#e45756"/>
<text x="212" y="433" class="lg" textLength="55" lengthAdjust="spacingAndGlyphs">Channel_1</text>
<circle cx="284" cy="429" r="5" fill="#72b7b2"/>
<text x="294" y="433" class="lg" textLength="55" lengthAdjust="spacingAndGlyphs">Channel_2</text>
<circle cx="366" cy="429" r="5" fill="#54a24b"/>
<text x="376" y="433" class="lg" textLength="55" lengthAdjust="spacingAndGlyphs">Channel_3</text>
<circle cx="448" cy="429" r="5" fill="#eeca3b"/>
<text x="458" y="433" class="lg" textLength="55" lengthAdjust="spacingAndGlyphs">Channel_4</text>
<circle cx="530" cy="429" r="5" fill="#b279a2"/>
<text x="540" y="433" class="lg" textLength="154.5" lengthAdjust="spacingAndGlyphs">Organic_channel0_impressi…</text>
<circle cx="711" cy="429" r="5" fill="#ff9da6"/>
<text x="721" y="433" class="lg">Promo</text></g>
</svg>
</body></html>
